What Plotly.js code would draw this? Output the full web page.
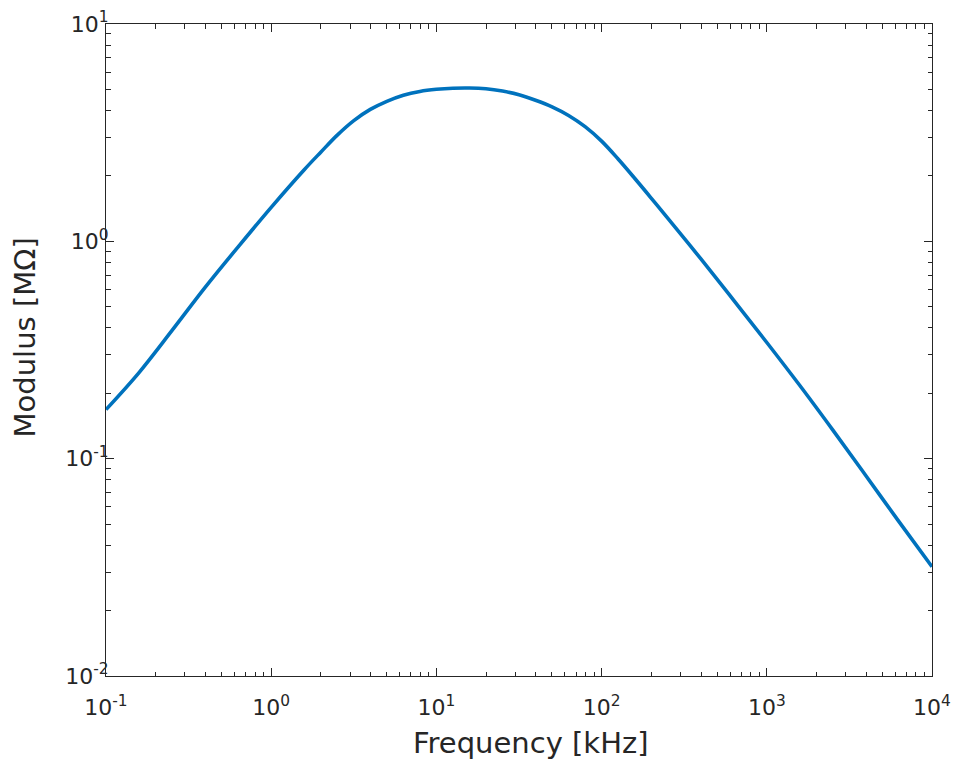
<!DOCTYPE html>
<html>
<head>
<meta charset="utf-8">
<script src="https://cdn.plot.ly/plotly-3.0.1.min.js"></script>
<style>html,body{margin:0;padding:0;background:#fff;}#chart{width:953px;height:760px;}</style>
</head>
<body>
<div id="chart"></div>
<script>
// Frequency [kHz]
var frequency = [0.1, 0.1585, 0.2512, 0.3981, 0.631, 1.0, 1.585, 1.995, 2.512, 3.162, 3.981, 5.012, 6.31, 7.943, 10, 12.59, 15.85, 19.95, 25.12, 31.62, 39.81, 50.12, 63.1, 79.43, 100, 125.9, 158.5, 199.5, 251.2, 398.1, 631, 1000, 1585, 2512, 3981, 6310, 10000];
// Modulus [MΩ]
var modulus = [0.1682, 0.2490, 0.3890, 0.6138, 0.9434, 1.434, 2.136, 2.571, 3.080, 3.592, 4.045, 4.408, 4.703, 4.896, 5.007, 5.065, 5.076, 5.033, 4.912, 4.728, 4.460, 4.158, 3.795, 3.370, 2.890, 2.392, 1.951, 1.582, 1.279, 0.8318, 0.5348, 0.3424, 0.2170, 0.1353, 0.0835, 0.0513, 0.0318];

var xTickVals = [0.1, 1, 10, 100, 1000, 10000];
var xTickText = ['10<sup>-1</sup>', '10<sup>0</sup>', '10<sup>1</sup>', '10<sup>2</sup>', '10<sup>3</sup>', '10<sup>4</sup>'];
var yTickVals = [0.01, 0.1, 1, 10];
var yTickText = ['10<sup>-2</sup>', '10<sup>-1</sup>', '10<sup>0</sup>', '10<sup>1</sup>'];
var xTitle = 'Frequency [kHz]';
var yTitle = 'Modulus [MΩ]';

function minorVals(majors) {
  var out = [];
  for (var i = 0; i < majors.length - 1; i++) {
    for (var k = 2; k <= 9; k++) out.push(majors[i] * k);
  }
  return out;
}

var axisColor = '#262626';
var family = 'DejaVu Sans, Verdana, sans-serif';
var tickFont = {family: family, size: 22, color: axisColor};
var titleFont = {family: family, size: 29, color: axisColor};

var trace = {
  x: frequency, y: modulus, type: 'scatter', mode: 'lines',
  line: {color: '#0072BD', width: 3.6, shape: 'spline', smoothing: 1},
  hoverinfo: 'x+y'
};
// invisible carrier trace so the minor-tick overlay axes are drawn
var carrier = {
  x: frequency, y: modulus, type: 'scatter', mode: 'lines',
  xaxis: 'x2', yaxis: 'y2', line: {width: 0}, opacity: 0, hoverinfo: 'skip'
};

function majorAxis(vals, text, range, standoff) {
  return {
    type: 'log', range: range, tickmode: 'array', tickvals: vals, ticktext: text,
    ticks: 'inside', ticklen: 8, tickwidth: 1, tickcolor: axisColor,
    showline: true, linecolor: axisColor, linewidth: 1, mirror: 'allticks',
    showgrid: false, zeroline: false, tickfont: tickFont, ticklabelstandoff: standoff
  };
}
function minorAxis(vals, range, over, anchor, side) {
  return {
    type: 'log', range: range, overlaying: over, anchor: anchor, side: side,
    tickmode: 'array', tickvals: minorVals(vals), showticklabels: false,
    ticks: 'inside', ticklen: 4.5, tickwidth: 1, tickcolor: axisColor,
    showline: true, linecolor: axisColor, linewidth: 1, mirror: 'allticks',
    showgrid: false, zeroline: false
  };
}

var layout = {
  width: 953, height: 760,
  margin: {l: 106, r: 21, t: 24, b: 84},
  paper_bgcolor: '#ffffff', plot_bgcolor: '#ffffff',
  showlegend: false,
  font: tickFont,
  xaxis: majorAxis(xTickVals, xTickText, [-1, 4], 12),
  yaxis: majorAxis(yTickVals, yTickText, [-2, 1], -8),
  xaxis2: minorAxis(xTickVals, [-1, 4], 'x', 'y', 'bottom'),
  yaxis2: minorAxis(yTickVals, [-2, 1], 'y', 'x', 'left'),
  annotations: [
    {text: xTitle, xref: 'paper', yref: 'paper', x: 0.514, y: -0.0735, xanchor: 'center', yanchor: 'top', showarrow: false, font: titleFont},
    {text: yTitle, xref: 'paper', yref: 'paper', x: -0.0757, y: 0.52, xanchor: 'right', yanchor: 'middle', textangle: -90, showarrow: false, font: titleFont}
  ]
};

Plotly.newPlot('chart', [trace, carrier], layout, {displayModeBar: false, staticPlot: true});
</script>
</body>
</html>
